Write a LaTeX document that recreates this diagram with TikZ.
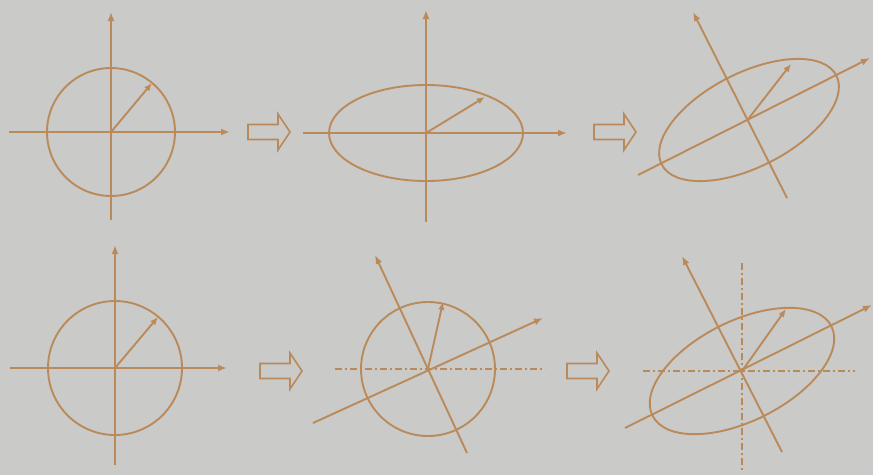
\documentclass[tikz,border=0pt]{standalone}
\usetikzlibrary{arrows.meta}
\definecolor{bg}{RGB}{202,202,200}
\definecolor{ink}{RGB}{186,138,90}
\tikzset{
  ln/.style={draw=ink, line width=1.9pt},
  ax/.style={ln, -{Latex[length=9pt,width=7pt]}},
  vec/.style={ln, -{Latex[length=8pt,width=6.5pt]}},
  dd/.style={draw=ink, line width=1.6pt, dash pattern=on 7pt off 3pt on 2pt off 3pt},
  blockarrow/.style={draw=ink, line width=1.6pt, fill=none, line join=miter}
}
\newcommand{\blockarr}[2]{% left x, center y
  \draw[blockarrow] (#1,#2-7.5) -- (#1+30,#2-7.5) -- (#1+30,#2-18) -- (#1+42,#2) -- (#1+30,#2+18) -- (#1+30,#2+7.5) -- (#1,#2+7.5) -- cycle;
}
\begin{document}
\begin{tikzpicture}[x=1pt,y=-1pt]
\path[use as bounding box, fill=bg] (0,0) rectangle (873,475);

% ---------- top row ----------
% panel 1
\coordinate (c1) at (111,132);
\draw[ln] (c1) circle [radius=64pt];
\draw[ax] (9,132) -- (230,132);
\draw[ax] (111,220) -- (111,12);
\draw[vec] (c1) -- (152,83);

\blockarr{248}{132}

% panel 2
\coordinate (c2) at (426,133);
\draw[ln] (c2) ellipse [x radius=97pt, y radius=48pt];
\draw[ax] (303,133) -- (567,133);
\draw[ax] (426,222) -- (426,10);
\draw[vec] (c2) -- (485,97);

\blockarr{594}{132}

% panel 3
\coordinate (c3) at (749,118);
\coordinate (e3) at (749,120);
\draw[ln, rotate around={27:(e3)}] (e3) ellipse [x radius=98pt, y radius=47pt];
\draw[ax] (638,175) -- (870,58);
\draw[ax] (787,198) -- (693,12);
\draw[vec] (c3) -- (791,64);

% ---------- bottom row ----------
% panel 4
\coordinate (c4) at (115,368);
\draw[ln] (c4) circle [radius=67pt];
\draw[ax] (10,368) -- (227,368);
\draw[ax] (115,465) -- (115,245);
\draw[vec] (c4) -- (158,317);

\blockarr{260}{371}

% panel 5
\coordinate (c5) at (428,369);
\draw[dd] (335,369) -- (545,369);
\draw[ln] (c5) circle [radius=67pt];
\draw[ax] (313,423) -- (543,318);
\draw[ax] (467,453) -- (375,255);
\draw[vec] (c5) -- (443,302);

\blockarr{567}{371}

% panel 6
\coordinate (c6) at (742,371);
\draw[dd] (643,371) -- (855,371);
\draw[dd] (742,263) -- (742,470);
\draw[ln, rotate around={26.5:(c6)}] (c6) ellipse [x radius=100pt, y radius=50pt];
\draw[ax] (625,428) -- (872,305);
\draw[ax] (782,452) -- (682,256);
\draw[vec] (c6) -- (786,309);
\end{tikzpicture}
\end{document}
